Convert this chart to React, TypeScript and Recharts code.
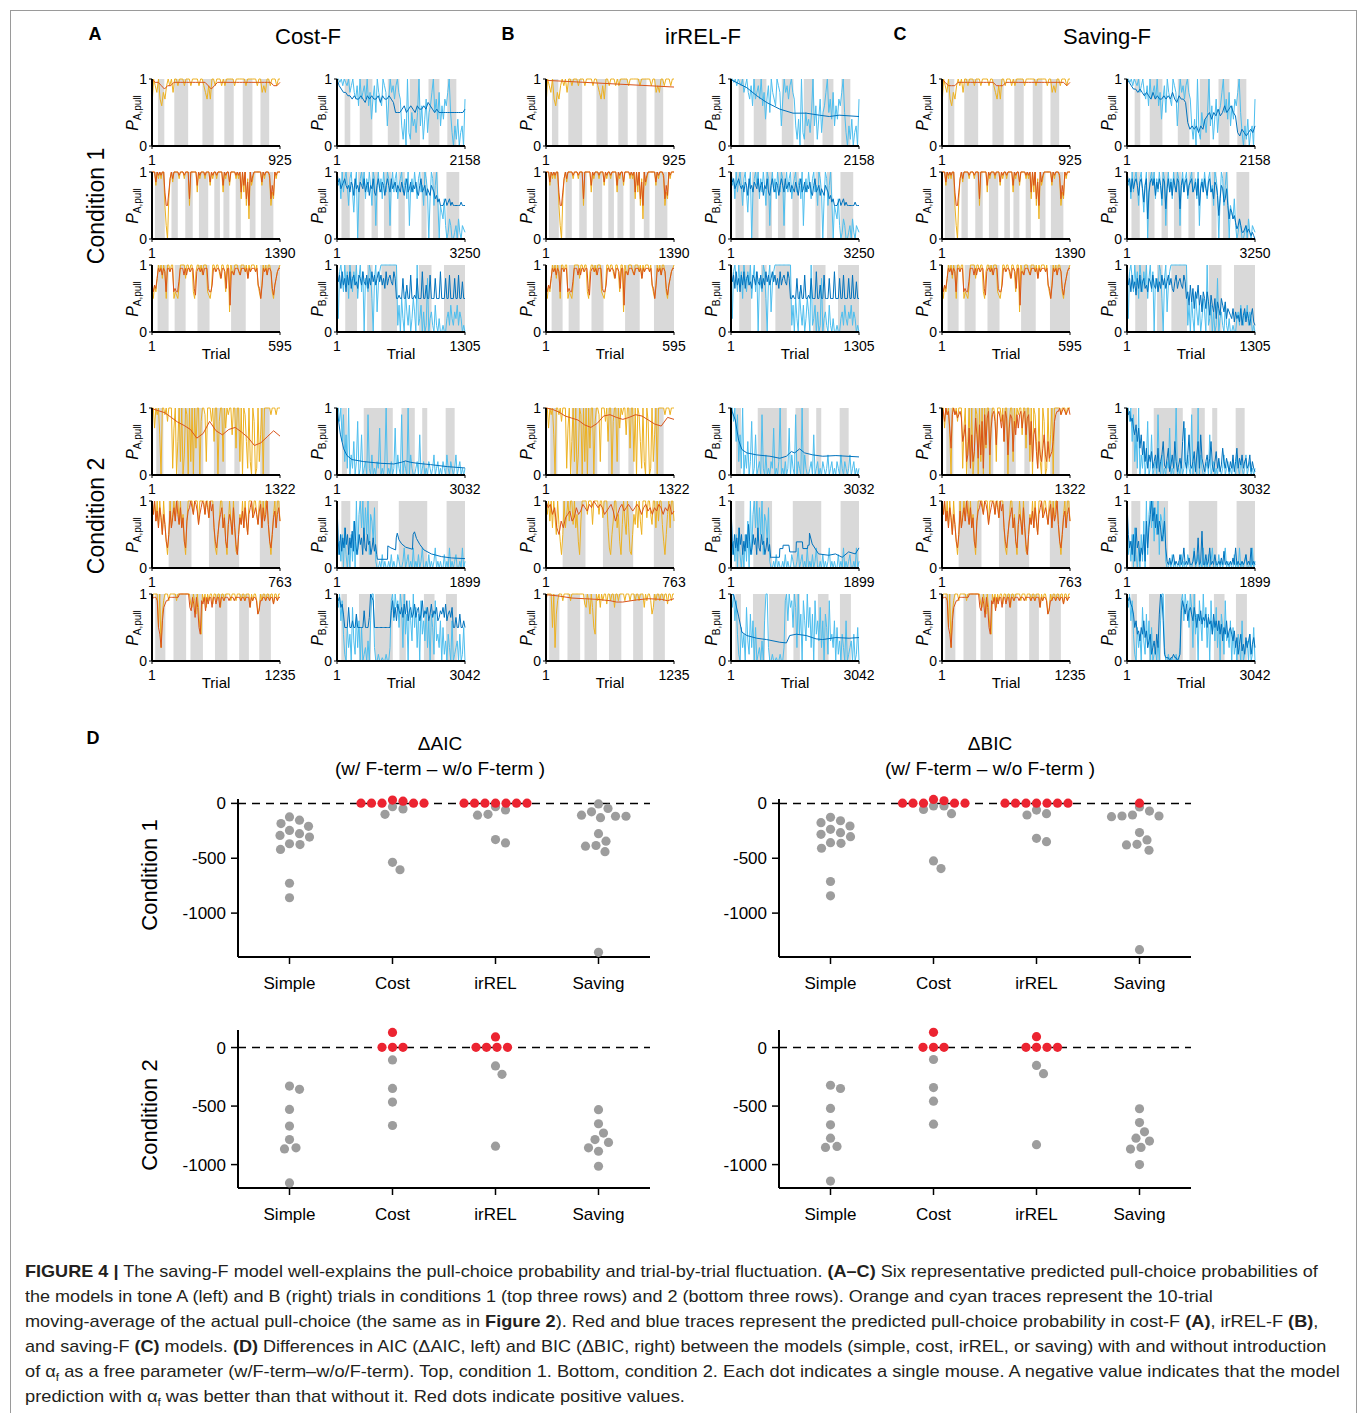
import { useLayoutEffect, useRef, useState } from "react";
import { LineChart, Line, XAxis, YAxis, ReferenceArea, ReferenceLine, ScatterChart, Scatter } from "recharts";

// trial counts per row (rows 1-3: condition 1, rows 4-6: condition 2)
const trialsToneA = [925, 1390, 595, 1322, 763, 1235];
const trialsToneB = [2158, 3250, 1305, 3032, 1899, 3042];

// gray blocks (trial ranges)
const bandsA1 = [[44, 90], [162, 262], [365, 446], [523, 591], [656, 726], [784, 847]];
const bandsA2 = [[33, 140], [212, 281], [362, 443], [510, 611], [677, 738], [776, 841], [909, 965], [1062, 1124], [1183, 1318]];
const bandsA3 = [[27, 78], [106, 157], [212, 268], [368, 436], [502, 595]];
const bandsA4 = [[45, 118], [267, 530], [640, 762], [851, 907], [1118, 1215]];
const bandsA5 = [[100, 236], [340, 520], [643, 763]];
const bandsA6 = [[32, 130], [208, 330], [372, 492], [608, 727], [841, 935], [1035, 1147]];
const bandsB1 = [[130, 225], [384, 598], [857, 1053], [1228, 1398], [1543, 1727], [1860, 2012]];
const bandsB2 = [[114, 325], [536, 699], [878, 1040], [1193, 1381], [1560, 1723], [2145, 2275], [2438, 2568], [2779, 3104]];
const bandsB3 = [[85, 205], [307, 364], [453, 613], [835, 964], [1091, 1305]];
const bandsB4 = [[118, 237], [634, 1322], [1528, 1843], [2019, 2138], [2574, 2787]];
const bandsB5 = [[65, 198], [332, 610], [917, 1339], [1626, 1899]];
const bandsB6 = [[103, 237], [523, 809], [906, 1326], [1484, 1637], [2066, 2318], [2589, 2850]];

// traces: letters a..u = 0, 0.05, ... 1.0, evenly spread over the trials
const yelC1R1 = "musquomqosusuquusuuusuuusuuuusuusqosouusuuususuuuuusuuuuuusuuuuuusuuqsquusuuusuu";
const yelC1R2 = "uuuqususuukeamsuruuuusuuusuuukuuuuuousuuusuuuqusuusuuuuousuuquuuususumuouksguqsuuuuuuqusuuuskomusuuu";
const yelC1R3 = "nkomqusuquskuusuukmlkouuuuquusuumksuusuruuumlknuusuusquusmuugusruuusruuusuqusuuusuomkousuruusmkoqstu";
const yelC2R1 = "uuousumauusuquuucouakueuagusaueuauiuuaquuseuuuqukuuaquueuousuumuuiuueuauskcueauqacuemuauuuuusuuusuuu";
const yelC2R2 = "uquoumupkuniekumquouunumqieouuuuquuunuuuuquupuuumgekouumqienuokumfekqnumuokuuupuuqnuumuouuniekqumuuo";
const yelC2R3 = "suuuukueosuuusuuuuusuuuuuuuuuurqusouqkiusuqusuuruusuuquusuuuusuuusuuusuusuuuqusuusoqusuusuusuuruusuu";
const cyaC1R1 = "uutusutsuqsuqosmuoqsoumqioskuqomusqgouqsosuqogciaueckgiekugmcioekmqukoiqgmiomqukeagciaegao";
const cyaC1R2 = "uqsmuosuqksuoiquaosuqumsouqkusequosmuqousequosumqsuoqsmueqsouqmsuoqkusoamuskqumakigmeacgeaaceagcaedc";
const cyaC1R3 = "uesuqmuoskuqmsoukqumsaqomuskaqugosuuuuuuuuuuuuuciakeamgciaekgauceiagacqaegcaicaeaacaaegciecgeicgeaca";
const cyaC2R1 = "uuquksemcuagckaeqacmaceascagacaecoacaeuacaeacoagcasaecauagcaaceamaceacaecacgaceacaecagcaecacgaceacac";
const cyaC2R2 = "ueickameagakcoauequmuiskueqoiscaacaeacaacaeacaaecaacgaceacagacaeacgaacaeacacgacacaaeacagacaceaacagac";
const cyaC2R3 = "uqumsicakeiaqgcoemakaceagamuueaacaabaacaaesumuqskuqeuioasmgukqeoasimgqemaokcsgiemakcgaieamacegaiacka";

// predicted, tone A
const costA1 = "uttsrsstttttttttttsrsttttttttttttttttttsst";
const irelA1 = [[1, 0.98], [925, 0.88]];
const saveA1 = "utsssttttttttttttssstttttttttttttttttttst";
const followA2 = "uuurututuuokkosusuuuutuuutuuumuuuuuqutuuutuuurutuutuuuuqutuuruuuututuouqumrkurtuuuuuurutuuutmqnutuuu";
const followA3 = "omonqtstrtsmttsttmnmmptttrtrttsttnlsttstrtttnmmottsttsqttsnttissrtttsrtttstqtstttstonkotstrttsnloqstt";
const costA4 = [0.99, 0.96, 0.93, 0.86, 0.79, 0.74, 0.68, 0.55, 0.62, 0.8, 0.66, 0.6, 0.68, 0.71, 0.64, 0.56, 0.44, 0.48, 0.57, 0.66, 0.58];
const irelA4 = [1.0, 0.98, 0.94, 0.88, 0.85, 0.82, 0.75, 0.71, 0.77, 0.88, 0.9, 0.86, 0.83, 0.86, 0.9, 0.88, 0.82, 0.76, 0.73, 0.86, 0.83];
const saveA4 = "utqustoisustrstrkmpegocmehrmfpgqcsjrtgostqjstrosktrgosrhqmsostostmrsjqemohckgeimgekfghkqsttustutstus";
const followA5 = "squormspkqnigkrmpsouqnsmpigorsusqutrnqsutquspurtmigkoqsmpignqoksmhekpnrmsokqsupqsqnrtmsoqunigkprmqso";
const irelA5 = "ustqsmkompqropsqrtsrtsutstsqrstroqstrstsrstsqstrsqsrtsqsrtqr";
const followA6 = "stttskiemqrssttttttttuuuuuuuuqptrntqkisrtptrttqttrttqttstttstttsttttsttstttqtsttsopssttsttsttrttstt";
const irelA6 = [[1, 0.99], [124, 0.97], [248, 0.94], [371, 0.93], [495, 0.92], [618, 0.9], [680, 0.88], [741, 0.88], [865, 0.91], [988, 0.93], [1112, 0.92], [1173, 0.9], [1235, 0.93]];

// predicted, tone B
const costB1 = "usrqqppopooponpopoopnpooponkkklmklmlkmllmlnmlklkkkkkkkkkkkkl";
const irelB1 = [[1, 0.99], [157, 0.92], [268, 0.87], [435, 0.75], [601, 0.65], [824, 0.55], [1046, 0.49], [1268, 0.49], [1491, 0.46], [1658, 0.44], [1824, 0.46], [2158, 0.44]];
const saveB1 = "utsrrqrqpqpoqopoopopoqonpoonhfgfgegfijkikjljkmklmkjedfedefeg";
const costB2 = "urspqrsqpqorqnspqorqpsoqrnqpsonqsporqnqsqospqroqporpnqsoproqpronqsopqnponqpomnlmkkklmklmklkkkkkklkkk";
const saveB2 = "ursosprsqnrsplqsgorsqsnrpsqmsrjpsornsqosrjqsorsnqrsoprnskprospnrsopmrqnhmqplmpkgjighfdegeccdecdcbcba";
const costB3 = "uprnsoqmrosnqropnrqospornqosproqsproqnsoqrposqkklkkqkkokkrkklkqkkkskkokkrkkkqkkkskkkqkkrkkkqkkrkkpkk";
const saveB3 = "uoqmrnplqnrmpqnomqpnronqmpnroqnproqnmprnpqonrpkmiojnhmkoilgmkhmjfligkejhfkigjehgfehdgefdhcfhdgecfhdc";
const costB4 = [[1, 0.99], [80, 0.61], [159, 0.39], [238, 0.29], [356, 0.23], [634, 0.2], [1029, 0.175], [1346, 0.165], [1528, 0.19], [1623, 0.21], [1742, 0.19], [1900, 0.175], [2216, 0.155], [2613, 0.125], [3032, 0.105]];
const irelB4 = [[1, 0.99], [103, 0.82], [181, 0.52], [259, 0.38], [376, 0.33], [610, 0.3], [923, 0.28], [1157, 0.25], [1313, 0.28], [1430, 0.35], [1508, 0.33], [1626, 0.39], [1743, 0.33], [1938, 0.3], [2173, 0.28], [2485, 0.29], [3032, 0.27]];
const saveB4 = "ustqrompkoimgkeicgehcegcibegkdcfibdgckebdfckqecgmdcehbgkcmfdbegcfkdbehcfbdiecfdbecgbeicfdgcefcdgbecb";
const costB5Early = "uiekfjgmhkejglfoiegkhjemgfkhiegjfhe";
const costB5Late = [[600, 0.13], [750, 0.13], [755, 0.33], [800, 0.3], [870, 0.27], [880, 0.45], [895, 0.52], [920, 0.42], [960, 0.36], [1020, 0.31], [1120, 0.28], [1130, 0.5], [1150, 0.54], [1180, 0.44], [1230, 0.35], [1290, 0.27], [1400, 0.21], [1550, 0.17], [1700, 0.15], [1899, 0.14]];
const irelB5Early = "uiekgjfmhkeifkgniegkhjemgfkhiegjfhd";
const irelB5Late = [[603, 0.16], [720, 0.16], [725, 0.29], [770, 0.29], [774, 0.34], [860, 0.34], [872, 0.24], [965, 0.24], [970, 0.39], [1060, 0.39], [1067, 0.29], [1135, 0.29], [1141, 0.34], [1160, 0.34], [1165, 0.52], [1205, 0.36], [1300, 0.21], [1450, 0.19], [1550, 0.21], [1650, 0.16], [1745, 0.24], [1845, 0.21], [1899, 0.3]];
const saveB5 = "ukgiekcmgicgekcogmquosmqkomikogcbdbcebcbbebcgbcbdbbcfbcjbclbbebcgbcbebbcbdbfbcbbcbdbgbcbbcbcebcbgbcb";
const costB6 = "ustqrokkkqkkmkkokkkkkpkkknutskkkkkkkkkkkkkpsnqmrpoqnrosmpqnornpqmosnpoqmornpoqmnpoqnrmopnqkknkkokkmk";
const irelB6 = [[1, 0.99], [64, 0.99], [181, 0.67], [260, 0.43], [377, 0.38], [612, 0.34], [847, 0.32], [1161, 0.28], [1318, 0.27], [1396, 0.38], [1553, 0.4], [1788, 0.38], [2023, 0.33], [2180, 0.32], [2494, 0.35], [2807, 0.34], [3042, 0.35]];
const saveB6 = "ustrqokmijgkimhjegicegcieoutmcbbbabbcbbabcpsqormpqomqnkomplnmoknlmiokmjmilgkimhjkigjehcfidfchegicfhe";

// panel D: ΔAIC / ΔBIC per mouse
const models = ["Simple", "Cost", "irREL", "Saving"];
const aic1Simple = [-184, -276, -375, -123, -153, -246, -368, -420, -728, -860, -209, -292, -307];
const aic1Cost = [2, 30, 2, 2, 2, 2, 20, -30, -100, -50, -605, -537];
const aic1Irel = [2, 2, 2, 2, 2, 2, 2, -100, -60, -107, -330, -360, -30];
const aic1Saving = [-46, -5, -117, -130, -107, -77, -117, -276, -344, -390, -440, -384, -1357];
const bic1Simple = [-176, -267, -364, -127, -158, -236, -358, -409, -712, -842, -206, -282, -303];
const bic1Cost = [2, 2, 2, 2, 2, 36, 24, -24, -55, -94, -24, -524, -594];
const bic1Irel = [2, 2, 2, 2, 2, 2, 2, -94, -61, -106, -318, -349];
const bic1Saving = [2, -33, -70, -115, -121, -106, -115, -266, -333, -379, -427, -373, -1333];
const aic2Simple = [-329, -357, -529, -671, -786, -866, -857, -1157];
const aic2Cost = [129, 2, 2, 2, -106, -349, -466, -666];
const aic2Irel = [2, 2, 91, 2, 2, -157, -229, -843];
const aic2Saving = [-531, -651, -731, -786, -811, -886, -857, -1014];
const bic2Simple = [-322, -350, -520, -660, -774, -853, -845, -1141];
const bic2Cost = [130, 2, 2, 2, -102, -342, -458, -655];
const bic2Irel = [2, 2, 93, 2, 2, -153, -223, -830];
const bic2Saving = [-523, -641, -720, -774, -799, -867, -853, -1000];

type Pt = { x: number; y: number };
const LV = "abcdefghijklmnopqrstu";
const seq = (s: string, x0: number, x1: number): Pt[] =>
  s.split("").map((c, i, a) => ({ x: x0 + (i * (x1 - x0)) / (a.length - 1), y: LV.indexOf(c) / 20 }));
const toPts = (t: any, n: number): Pt[] => {
  if (typeof t === "string") return seq(t, 1, n);
  if (typeof t[0] === "number") return t.map((y: number, i: number) => ({ x: 1 + (i * (n - 1)) / (t.length - 1), y }));
  if (Array.isArray(t[0])) return t.map((p: number[]) => ({ x: p[0], y: p[1] }));
  return t;
};

const bandsA = [bandsA1, bandsA2, bandsA3, bandsA4, bandsA5, bandsA6];
const bandsB = [bandsB1, bandsB2, bandsB3, bandsB4, bandsB5, bandsB6];
const actA = [yelC1R1, yelC1R2, yelC1R3, yelC2R1, yelC2R2, yelC2R3];
const actB = [cyaC1R1, cyaC1R2, cyaC1R3, cyaC2R1, cyaC2R2, cyaC2R3];
const costB5 = [...seq(costB5Early, 1, 590), ...toPts(costB5Late, 0)];
const irelB5 = [...seq(irelB5Early, 1, 590), ...toPts(irelB5Late, 0)];

const PANELS = [
  { letter: "A", title: "Cost-F", lx: 95, tx: 308, cols: [152, 337],
    predA: [costA1, followA2, followA3, costA4, followA5, followA6],
    predB: [costB1, costB2, costB3, costB4, costB5, costB6] },
  { letter: "B", title: "irREL-F", lx: 508, tx: 703, cols: [546, 731],
    predA: [irelA1, followA2, followA3, irelA4, irelA5, irelA6],
    predB: [irelB1, costB2, costB3, irelB4, irelB5, irelB6] },
  { letter: "C", title: "Saving-F", lx: 900, tx: 1107, cols: [942, 1127],
    predA: [saveA1, followA2, followA3, saveA4, followA5, followA6],
    predB: [saveB1, saveB2, saveB3, saveB4, saveB5, saveB6] },
];
const ROW_Y = [79, 172, 265, 408, 501, 594];

const FONT = "'Liberation Sans', Arial, Helvetica, sans-serif";
const COL = {
  A: { act: "#EDB120", pred: "#D95319" },
  B: { act: "#4DBEEE", pred: "#0072BD" },
};
const PW = 128;
const PH = 67;
const TOP = 10;

function Txt({ x, y, size, bold, rot, children }: any) {
  return (
    <div
      style={{
        position: "absolute", left: x, top: y, whiteSpace: "nowrap", lineHeight: 1,
        fontSize: size, fontWeight: bold ? "bold" : "normal",
        transform: `translate(-50%, -50%)${rot ? " rotate(-90deg)" : ""}`,
      }}
    >
      {children}
    </div>
  );
}

function SmallPlot({ x, y, n, bands, act, pred, tone, trial }: any) {
  const c = COL[tone as "A" | "B"];
  return (
    <div style={{ position: "absolute", left: x - 30, top: y - TOP }}>
      <LineChart width={30 + PW + 24} height={TOP + PH + 28} margin={{ top: TOP, right: 24, bottom: 0, left: 0 }}>
        <XAxis
          type="number" dataKey="x" domain={[1, n]} ticks={[1, n]} interval={0} height={28}
          axisLine={{ stroke: "#000", strokeWidth: 2 }} tickLine={{ stroke: "#000" }}
          tickSize={3} tickMargin={6} tick={{ fontSize: 14, fill: "#000" }}
        />
        <YAxis
          type="number" domain={[0, 1]} ticks={[0, 1]} interval={0} width={30}
          axisLine={{ stroke: "#000", strokeWidth: 2 }} tickLine={{ stroke: "#000" }}
          tickSize={3} tickMargin={2} tick={{ fontSize: 14, fill: "#000" }}
        />
        {bands.map(([a, b]: number[], i: number) => (
          <ReferenceArea key={i} x1={a} x2={b} y1={0} y2={1} fill="#d9d9d9" fillOpacity={1} stroke="none" />
        ))}
        <Line data={toPts(act, n)} dataKey="y" stroke={c.act} strokeWidth={1} dot={false} isAnimationActive={false} />
        <Line data={toPts(pred, n)} dataKey="y" stroke={c.pred} strokeWidth={1} dot={false} isAnimationActive={false} />
      </LineChart>
      <Txt x={11} y={TOP + 34} size={16} rot>
        <span style={{ fontStyle: "italic" }}>P</span>
        <span style={{ fontSize: 10, position: "relative", top: 3 }}>{tone},pull</span>
      </Txt>
      {trial && <Txt x={30 + PW / 2} y={TOP + PH + 21} size={15}>Trial</Txt>}
    </div>
  );
}

// simple beeswarm: points of one colour avoid each other, starting from the category centre
function swarm(groups: number[][], pxX: number, pxY: number) {
  const out: { x: number; y: number }[] = [];
  groups.forEach((vals, gi) => {
    [true, false].forEach((pos) => {
      const placed: { dx: number; dy: number }[] = [];
      const idx = vals.map((_, i) => i).filter((i) => (vals[i] > 0) === pos);
      idx.sort((a, b) => vals[b] - vals[a]);
      for (const i of idx) {
        const dy = -vals[i] * pxY;
        let dx = 0;
        for (let k = 0; k < 400; k++) {
          const c = k === 0 ? 0 : (k % 2 ? 1 : -1) * Math.ceil(k / 2) * 0.5;
          if (placed.every((p) => Math.hypot(p.dx - c, p.dy - dy) >= 10.5)) { dx = c; break; }
        }
        placed.push({ dx, dy });
        out.push({ x: gi + 1 + dx / pxX, y: vals[i] });
      }
    });
  });
  // draw gray first, red on top
  return out.sort((a, b) => (a.y > 0 ? 1 : 0) - (b.y > 0 ? 1 : 0));
}

function Strip({ x, y, domain, groups }: any) {
  const W = 412, H = 158;
  const data = swarm(groups, W / 4, H / (domain[1] - domain[0]));
  return (
    <div style={{ position: "absolute", left: x - 60, top: y - 10 }}>
      <ScatterChart width={60 + W + 10} height={10 + H + 44} margin={{ top: 10, right: 10, bottom: 0, left: 0 }}>
        <XAxis
          type="number" dataKey="x" domain={[0.5, 4.5]} ticks={[1, 2, 3, 4]} interval={0} height={44}
          tickFormatter={(v: number) => models[v - 1]}
          axisLine={{ stroke: "#000", strokeWidth: 2 }} tickLine={{ stroke: "#000", strokeWidth: 1.5 }}
          tickSize={7} tickMargin={13} tick={{ fontSize: 17, fill: "#000" }}
        />
        <YAxis
          type="number" dataKey="y" domain={domain} ticks={[-1000, -500, 0]} interval={0} width={60}
          axisLine={{ stroke: "#000", strokeWidth: 2 }} tickLine={{ stroke: "#000", strokeWidth: 1.5 }}
          tickSize={7} tickMargin={5} tick={{ fontSize: 17, fill: "#000" }}
        />
        <ReferenceLine y={0} stroke="#000" strokeWidth={1.5} strokeDasharray="8 6" />
        <Scatter
          data={data} isAnimationActive={false}
          shape={(p: any) => <circle cx={p.cx} cy={p.cy} r={4.6} fill={p.payload.y > 0 ? "#ec2431" : "#9d9d9d"} />}
        />
      </ScatterChart>
    </div>
  );
}

function FitLine({ top, width, children }: any) {
  const ref = useRef<HTMLDivElement>(null);
  const [s, setS] = useState(1);
  useLayoutEffect(() => {
    if (ref.current) setS(width / ref.current.scrollWidth);
  }, [width]);
  return (
    <div
      ref={ref}
      style={{
        position: "absolute", left: 25, top, whiteSpace: "nowrap", fontSize: 17, lineHeight: "20px",
        color: "#231f20", transformOrigin: "0 0", transform: `scaleX(${s})`,
      }}
    >
      {children}
    </div>
  );
}

const Af = () => (
  <span>α<sub style={{ fontSize: 11 }}>f</sub></span>
);

export default function App() {
  return (
    <div style={{ position: "absolute", left: 0, top: 0, width: 1358, height: 1413, background: "#fff", fontFamily: FONT, color: "#000", overflow: "hidden" }}>
      <div style={{ position: "absolute", left: 10, top: 10, width: 1345, height: 1420, border: "1px solid #9a9a9a" }} />

      {PANELS.map((p) => (
        <div key={p.letter}>
          <Txt x={p.lx} y={34} size={18} bold>{p.letter}</Txt>
          <Txt x={p.tx} y={37} size={22}>{p.title}</Txt>
          {ROW_Y.map((ry, r) => (
            <div key={r}>
              <SmallPlot x={p.cols[0]} y={ry} n={trialsToneA[r]} bands={bandsA[r]} act={actA[r]} pred={p.predA[r]} tone="A" trial={r === 2 || r === 5} />
              <SmallPlot x={p.cols[1]} y={ry} n={trialsToneB[r]} bands={bandsB[r]} act={actB[r]} pred={p.predB[r]} tone="B" trial={r === 2 || r === 5} />
            </div>
          ))}
        </div>
      ))}
      <Txt x={96} y={206} size={23} rot>Condition 1</Txt>
      <Txt x={96} y={516} size={23} rot>Condition 2</Txt>

      <Txt x={93} y={738} size={18} bold>D</Txt>
      <Txt x={440} y={743} size={19}>ΔAIC</Txt>
      <Txt x={440} y={768} size={19}>(w/ F-term – w/o F-term )</Txt>
      <Txt x={990} y={743} size={19}>ΔBIC</Txt>
      <Txt x={990} y={768} size={19}>(w/ F-term – w/o F-term )</Txt>
      <Txt x={150} y={875} size={22} rot>Condition 1</Txt>
      <Txt x={150} y={1115} size={22} rot>Condition 2</Txt>

      <Strip x={238} y={799} domain={[-1400, 40]} groups={[aic1Simple, aic1Cost, aic1Irel, aic1Saving]} />
      <Strip x={779} y={799} domain={[-1400, 40]} groups={[bic1Simple, bic1Cost, bic1Irel, bic1Saving]} />
      <Strip x={238} y={1030} domain={[-1200, 150]} groups={[aic2Simple, aic2Cost, aic2Irel, aic2Saving]} />
      <Strip x={779} y={1030} domain={[-1200, 150]} groups={[bic2Simple, bic2Cost, bic2Irel, bic2Saving]} />

      <FitLine top={1262} width={1293}>
        <b>FIGURE 4 |</b> The saving-F model well-explains the pull-choice probability and trial-by-trial fluctuation. <b>(A–C)</b> Six representative predicted pull-choice probabilities of
      </FitLine>
      <FitLine top={1287} width={1188}>
        the models in tone A (left) and B (right) trials in conditions 1 (top three rows) and 2 (bottom three rows). Orange and cyan traces represent the 10-trial
      </FitLine>
      <FitLine top={1312} width={1293}>
        moving-average of the actual pull-choice (the same as in <b>Figure 2</b>). Red and blue traces represent the predicted pull-choice probability in cost-F <b>(A)</b>, irREL-F <b>(B)</b>,
      </FitLine>
      <FitLine top={1337} width={1301}>
        and saving-F <b>(C)</b> models. <b>(D)</b> Differences in AIC (ΔAIC, left) and BIC (ΔBIC, right) between the models (simple, cost, irREL, or saving) with and without introduction
      </FitLine>
      <FitLine top={1362} width={1315}>
        of <Af /> as a free parameter (w/F-term–w/o/F-term). Top, condition 1. Bottom, condition 2. Each dot indicates a single mouse. A negative value indicates that the model
      </FitLine>
      <FitLine top={1387} width={660}>
        prediction with <Af /> was better than that without it. Red dots indicate positive values.
      </FitLine>
    </div>
  );
}
